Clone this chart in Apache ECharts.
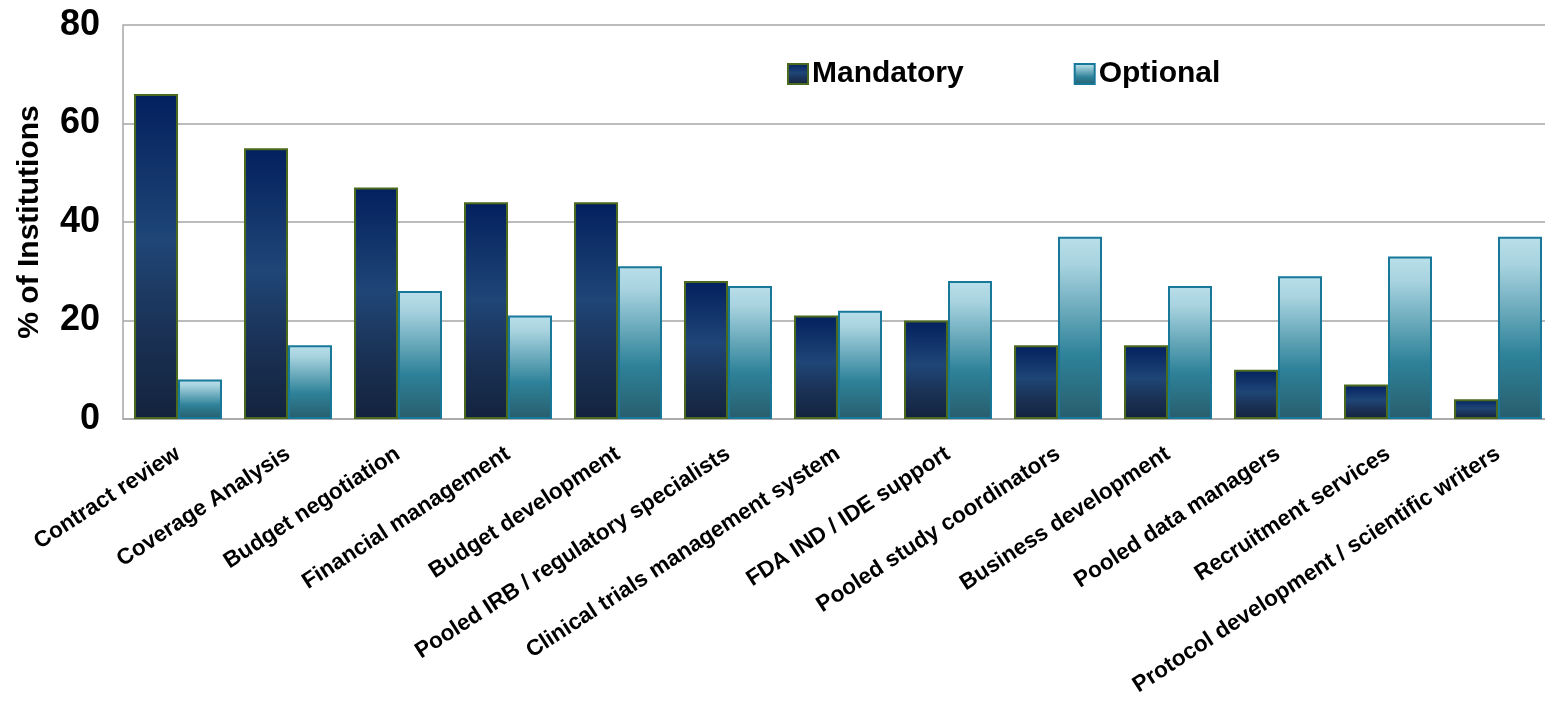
<!DOCTYPE html>
<html>
<head>
<meta charset="utf-8">
<script src="https://cdn.jsdelivr.net/npm/echarts@6/dist/echarts.min.js"></script>
<style>
html,body{margin:0;padding:0;background:#fff;}
#chart{width:1545px;height:704px;}
</style>
</head>
<body>
<div id="chart"></div>
<script>
const categories = ["Contract review","Coverage Analysis","Budget negotiation","Financial management","Budget development","Pooled IRB / regulatory specialists","Clinical trials management system","FDA IND / IDE support","Pooled study coordinators","Business development","Pooled data managers","Recruitment services","Protocol development / scientific writers"];
const mandatory = [66, 55, 47, 44, 44, 28, 21, 20, 15, 15, 10, 7, 4];
const optional = [8, 15, 26, 21, 31, 27, 22, 28, 37, 27, 29, 33, 37];
const yTicks = [0, 20, 40, 60, 80];

const FONT = '"Liberation Sans", Arial, sans-serif';
const chart = echarts.init(document.getElementById('chart'));
const mandGrad = new echarts.graphic.LinearGradient(0,0,0,1,[
  {offset:0,color:'#03205e'},{offset:0.45,color:'#1f4677'},{offset:0.7,color:'#1b3358'},{offset:1,color:'#13233d'}]);
const optGrad = new echarts.graphic.LinearGradient(0,0,0,1,[
  {offset:0,color:'#b9dfea'},{offset:0.15,color:'#a8d3df'},{offset:0.65,color:'#2e8299'},{offset:1,color:'#285d6c'}]);
chart.setOption({
  animation:false,
  backgroundColor:'#fff',
  grid:{left:123, top:25, width:1430, bottom:285, containLabel:false, outerBoundsMode:'none'},
  legend:{
    left:782, top:54, itemWidth:20, itemHeight:20, itemGap:110,
    textStyle:{fontFamily:FONT, fontSize:30, fontWeight:'bold', color:'#000', padding:[0,0,0,-1]},
    data:[{name:'Mandatory', icon:'rect'},{name:'Optional', icon:'rect'}]
  },
  xAxis:{
    type:'category', data:categories,
    axisLine:{show:true, lineStyle:{color:'#a6a6a6', width:1.5}},
    axisTick:{show:false},
    axisLabel:{rotate:33, interval:0, margin:33, fontFamily:FONT, fontSize:22.5, color:'#000', fontWeight:'bold'}
  },
  yAxis:{
    type:'value', min:0, max:80, interval:20,
    name:'% of Institutions', nameLocation:'middle', nameGap:78,
    nameTextStyle:{fontFamily:FONT, fontSize:30, fontWeight:'bold', color:'#000'},
    axisLine:{show:true, lineStyle:{color:'#a6a6a6', width:1.5}},
    axisTick:{show:false},
    axisLabel:{margin:23, fontFamily:FONT, fontSize:36, fontWeight:'bold', color:'#000',
      formatter:function(v){return yTicks.indexOf(v)>=0?String(v):'';}},
    splitLine:{show:true, lineStyle:{color:'#a6a6a6', width:1.5}}
  },
  series:[
    {name:'Mandatory', type:'bar', data:mandatory, barWidth:44, barGap:'0%',
     itemStyle:{color:mandGrad, borderColor:'#4b6a1e', borderWidth:2}},
    {name:'Optional', type:'bar', data:optional, barWidth:44, barGap:'0%',
     itemStyle:{color:optGrad, borderColor:'#17789a', borderWidth:2}}
  ]
});
</script>
</body>
</html>
